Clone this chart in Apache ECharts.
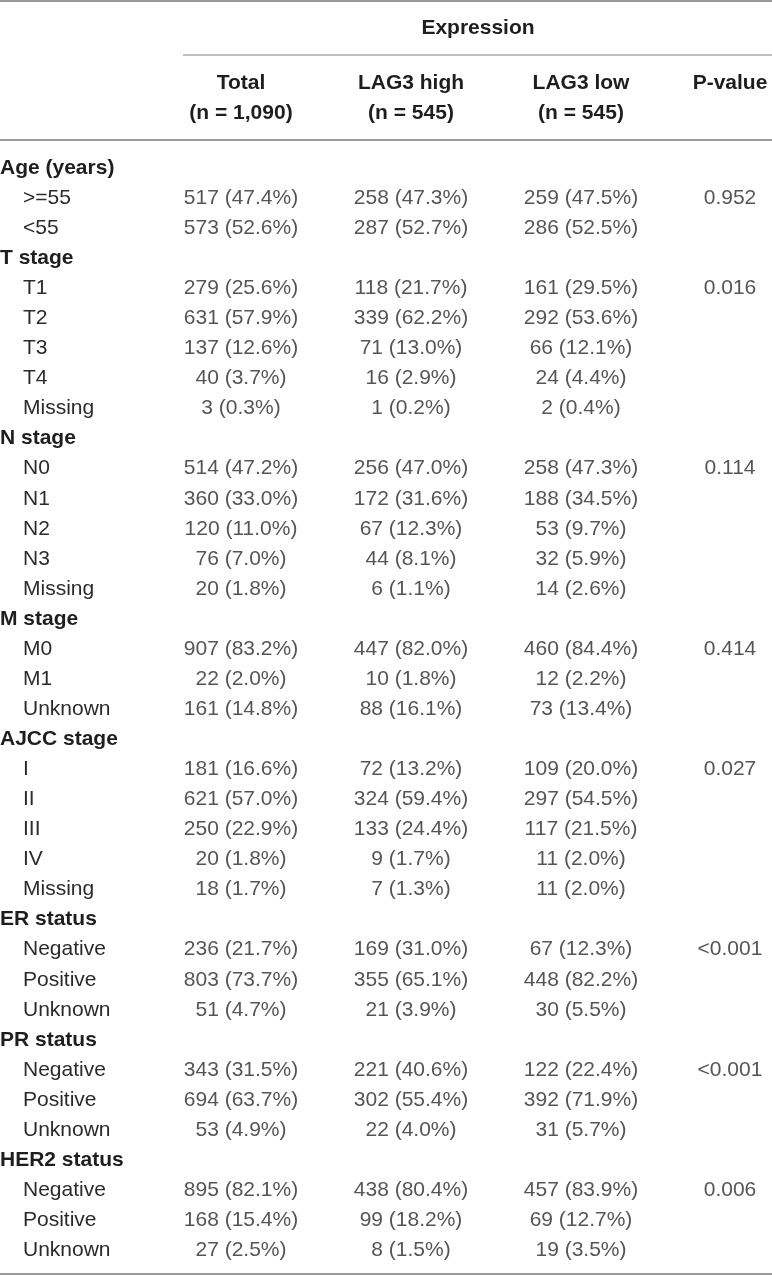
<!DOCTYPE html>
<html>
<head>
<meta charset="utf-8">
<script src="https://cdn.jsdelivr.net/npm/echarts@6/dist/echarts.min.js"></script>
<style>html,body{margin:0;padding:0;background:#fff;}#c{width:772px;height:1276px;}</style>
</head>
<body>
<div id="c"></div>
<script>
// ---- data ----
var columnHeaders = ['Total\n(n = 1,090)', 'LAG3 high\n(n = 545)', 'LAG3 low\n(n = 545)', 'P-value'];
var groupNames = ['Age (years)', 'T stage', 'N stage', 'M stage', 'AJCC stage', 'ER status', 'PR status', 'HER2 status'];
var groupItems = [
  ['>=55', '<55'],
  ['T1', 'T2', 'T3', 'T4', 'Missing'],
  ['N0', 'N1', 'N2', 'N3', 'Missing'],
  ['M0', 'M1', 'Unknown'],
  ['I', 'II', 'III', 'IV', 'Missing'],
  ['Negative', 'Positive', 'Unknown'],
  ['Negative', 'Positive', 'Unknown'],
  ['Negative', 'Positive', 'Unknown']
];
var pValues = ['0.952', '0.016', '0.114', '0.414', '0.027', '<0.001', '<0.001', '0.006'];
// counts and percentages per item row (in row order)
var totalN   = [517, 573, 279, 631, 137, 40, 3, 514, 360, 120, 76, 20, 907, 22, 161, 181, 621, 250, 20, 18, 236, 803, 51, 343, 694, 53, 895, 168, 27];
var totalPct = ['47.4','52.6','25.6','57.9','12.6','3.7','0.3','47.2','33.0','11.0','7.0','1.8','83.2','2.0','14.8','16.6','57.0','22.9','1.8','1.7','21.7','73.7','4.7','31.5','63.7','4.9','82.1','15.4','2.5'];
var highN    = [258, 287, 118, 339, 71, 16, 1, 256, 172, 67, 44, 6, 447, 10, 88, 72, 324, 133, 9, 7, 169, 355, 21, 221, 302, 22, 438, 99, 8];
var highPct  = ['47.3','52.7','21.7','62.2','13.0','2.9','0.2','47.0','31.6','12.3','8.1','1.1','82.0','1.8','16.1','13.2','59.4','24.4','1.7','1.3','31.0','65.1','3.9','40.6','55.4','4.0','80.4','18.2','1.5'];
var lowN     = [259, 286, 161, 292, 66, 24, 2, 258, 188, 53, 32, 14, 460, 12, 73, 109, 297, 117, 11, 11, 67, 448, 30, 122, 392, 31, 457, 69, 19];
var lowPct   = ['47.5','52.5','29.5','53.6','12.1','4.4','0.4','47.3','34.5','9.7','5.9','2.6','84.4','2.2','13.4','20.0','54.5','21.5','2.0','2.0','12.3','82.2','5.5','22.4','71.9','5.7','83.9','12.7','3.5'];

// ---- build table rows ----
var rowLabels = [], rowIsHeader = [], itemRowIdx = [], pRowIdx = [];
groupNames.forEach(function (g, gi) {
  rowLabels.push(g); rowIsHeader.push(true);
  groupItems[gi].forEach(function (it, ii) {
    if (ii === 0) pRowIdx.push(rowLabels.length);
    itemRowIdx.push(rowLabels.length);
    rowLabels.push(it); rowIsHeader.push(false);
  });
});
function cells(col, ns, pcts) {
  return itemRowIdx.map(function (r, k) { return [col, r, ns[k] + ' (' + pcts[k] + '%)']; });
}
var pCells = pRowIdx.map(function (r, k) { return [3, r, pValues[k]]; });

var FONT = 'Liberation Sans';
var TXT = '#2b2b2b';
var labelStyle = { show: true, position: 'inside', formatter: function (p) { return p.data[2]; },
  fontFamily: FONT, fontSize: 21, color: TXT };

var chart = echarts.init(document.getElementById('c'), null, { renderer: 'canvas' });
chart.setOption({
  animation: false,
  backgroundColor: '#fff',
  grid: { left: 156, top: 153, width: 680, height: 1112.3, containLabel: false, outerBoundsMode: 'none' },
  xAxis: {
    type: 'category', position: 'top', data: columnHeaders,
    axisLine: { show: false }, axisTick: { show: false }, splitLine: { show: false },
    axisLabel: {
      interval: 0, margin: 25, hideOverlap: false,
      formatter: function (v, i) {
        var s = i === 3 ? 'p' : 'b';
        var lines = v.split('\n');
        if (lines.length < 2) lines.push(' ');
        return lines.map(function (t) { return '{' + s + '|' + t + '}'; }).join('\n');
      },
      rich: {
        b: { fontFamily: FONT, fontWeight: 'bold', fontSize: 21, lineHeight: 30, color: '#1e1e1e' },
        p: { fontFamily: FONT, fontWeight: 'bold', fontSize: 21, lineHeight: 30, color: '#1e1e1e', padding: [0, 42, 0, 0] }
      }
    }
  },
  yAxis: {
    type: 'category', inverse: true, data: rowLabels,
    axisLine: { show: false }, axisTick: { show: false }, splitLine: { show: false },
    axisLabel: {
      interval: 0, align: 'left', margin: 156, hideOverlap: false,
      formatter: function (v, i) { return rowIsHeader[i] ? '{h|' + v + '}' : '{s|' + v + '}'; },
      rich: {
        h: { fontFamily: FONT, fontWeight: 'bold', fontSize: 21, color: '#1e1e1e' },
        s: { fontFamily: FONT, fontSize: 21, color: TXT, padding: [0, 0, 0, 23] }
      }
    }
  },
  series: [
    { type: 'scatter', symbolSize: 0, data: cells(0, totalN, totalPct), label: labelStyle },
    { type: 'scatter', symbolSize: 0, data: cells(1, highN, highPct), label: labelStyle },
    { type: 'scatter', symbolSize: 0, data: cells(2, lowN, lowPct), label: labelStyle },
    { type: 'scatter', symbolSize: 0, data: pCells, label: Object.assign({}, labelStyle, { offset: [-21, 0] }) }
  ],
  graphic: [
    { type: 'text', x: 478, y: 28, style: { text: 'Expression', font: 'bold 21px "' + FONT + '"', fill: '#1e1e1e', textAlign: 'center', textVerticalAlign: 'middle' } },
    { type: 'line', shape: { x1: 0, y1: 1, x2: 772, y2: 1 }, style: { stroke: '#9a9a9a', lineWidth: 2 } },
    { type: 'line', shape: { x1: 183, y1: 55, x2: 772, y2: 55 }, style: { stroke: '#a8a8a8', lineWidth: 1.5 } },
    { type: 'line', shape: { x1: 0, y1: 140, x2: 772, y2: 140 }, style: { stroke: '#9a9a9a', lineWidth: 2 } },
    { type: 'line', shape: { x1: 0, y1: 1274, x2: 772, y2: 1274 }, style: { stroke: '#9a9a9a', lineWidth: 2 } }
  ]
});
</script>
</body>
</html>
